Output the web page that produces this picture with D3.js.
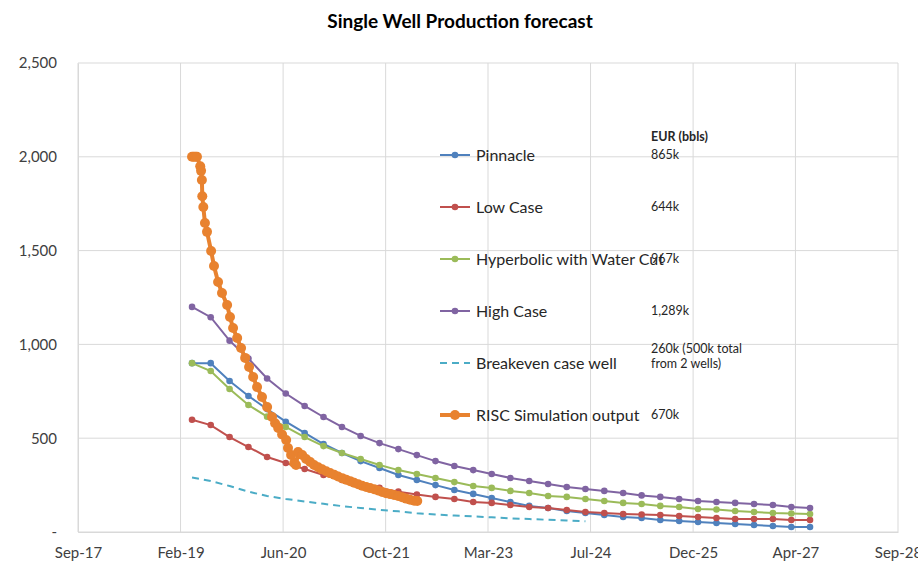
<!DOCTYPE html>
<html>
<head>
<meta charset="utf-8">
<script src="https://cdn.jsdelivr.net/npm/d3@7"></script>
<style>
  body { margin: 0; background: #fff; }
  text { font-family: Lato, "Open Sans", sans-serif; fill: #404040; }
</style>
</head>
<body>
<div id="chart"></div>
<script>
// chart size
var w = 918, h = 569;
var plotLeft = 78, plotRight = 898, plotTop = 63, plotBottom = 532;

// x axis ticks (Excel 500 day steps)
var tickDates = ["2017-09-22", "2019-02-04", "2020-06-18", "2021-10-31", "2023-03-14",
                 "2024-07-26", "2025-12-08", "2027-04-21", "2028-09-02"];
var yTicks = [0, 500, 1000, 1500, 2000, 2500];

// quarterly forecast dates
var quarters = ["2019-04","2019-07","2019-10","2020-01","2020-04","2020-07","2020-10","2021-01",
                "2021-04","2021-07","2021-10","2022-01","2022-04","2022-07","2022-10","2023-01",
                "2023-04","2023-07","2023-10","2024-01","2024-04","2024-07","2024-10","2025-01",
                "2025-04","2025-07","2025-10","2026-01","2026-04","2026-07","2026-10","2027-01",
                "2027-04","2027-07"];

var pinnacle = [900,900,805,725,655,588,528,469,421,378,341,304,277,250,224,203,181,160,
                139,128,112,101,91,80,75,64,59,53,48,43,37,32,27,27];
var lowCase = [598,570,506,453,400,368,336,304,277,256,235,215,200,187,176,160,155,144,
               133,128,117,107,101,96,93,91,85,80,75,69,69,69,64,64];
var hyperbolic = [900,858,762,677,615,560,506,458,421,389,357,330,309,288,266,245,235,219,
                  208,192,187,176,165,155,149,139,133,123,120,112,107,101,99,96];
var highCase = [1200,1145,1020,925,818,738,672,613,560,512,474,442,410,378,352,330,309,288,
                272,256,240,229,219,208,195,187,176,165,160,155,149,144,133,128];
var breakeven = [290,272,245,215,192,176,163,150,138,128,118,110,100,93,88,83,78,73,69,65,61,57];

// RISC simulation output: days after 2019-04-01 and rate
var riscStart = "2019-04-01";
var riscDays = [0,8,16,24,40,44,48,50,55,63,73,93,107,127,146,171,185,200,220,239,259,278,298,
                317,341,366,390,405,420,439,459,468,483,498,507,517,537,556,576,595,615,634,
                654,673,693,712,732,751,771,790,810,829,849,868,888,907,927,946,966,985,1005,
                1024,1044,1063,1083,1098];
var riscValues = [2000,2000,2000,2000,1950,1925,1876,1790,1732,1647,1600,1498,1418,1333,1274,
                  1210,1146,1087,1034,981,928,880,826,773,720,666,613,580,555,520,490,448,410,
                  368,357,426,410,389,373,357,345,334,324,314,305,296,287,279,271,263,255,247,
                  240,234,228,221,213,207,202,197,192,185,178,172,167,165];

var names = ["Pinnacle", "Low Case", "Hyperbolic with Water Cut", "High Case",
             "Breakeven case well", "RISC Simulation output"];
var eurLabels = [["865k"], ["644k"], ["967k"], ["1,289k"], ["260k (500k total", "from 2 wells)"], ["670k"]];
var colors = ["#4F81BD", "#C0504D", "#9BBB59", "#8064A2", "#4BACC6", "#E8822F"];

var parseDay = d3.utcParse("%Y-%m-%d");
var parseMonth = d3.utcParse("%Y-%m");

var x = d3.scaleUtc()
  .domain([parseDay(tickDates[0]), parseDay(tickDates[tickDates.length - 1])])
  .range([plotLeft, plotRight]);
var y = d3.scaleLinear().domain([0, 2500]).range([plotBottom, plotTop]);

var svg = d3.select("#chart").append("svg")
  .attr("width", w)
  .attr("height", h);

// title
svg.append("text")
  .attr("x", 460).attr("y", 28)
  .attr("text-anchor", "middle")
  .style("font-size", "19px")
  .style("font-weight", "bold")
  .style("fill", "#000")
  .text("Single Well Production forecast");

// gridlines
svg.append("g")
  .selectAll("line")
  .data(yTicks)
  .enter().append("line")
  .attr("x1", plotLeft).attr("x2", plotRight)
  .attr("y1", function(d) { return y(d); })
  .attr("y2", function(d) { return y(d); })
  .attr("stroke", "#D9D9D9");

svg.append("g")
  .selectAll("line")
  .data(tickDates)
  .enter().append("line")
  .attr("x1", function(d) { return x(parseDay(d)); })
  .attr("x2", function(d) { return x(parseDay(d)); })
  .attr("y1", plotTop).attr("y2", plotBottom)
  .attr("stroke", "#D9D9D9");

// axes
var yAxis = d3.axisLeft(y)
  .tickValues(yTicks)
  .tickSize(0)
  .tickPadding(21)
  .tickFormat(function(d) { return d === 0 ? "-" : d3.format(",")(d); });
var yG = svg.append("g").attr("transform", "translate(" + plotLeft + ",0)").call(yAxis);
yG.select(".domain").attr("stroke", "#D9D9D9");
yG.selectAll("text").style("font-size", "15px").style("font-family", "Lato, sans-serif").attr("fill", "#404040");

var xAxis = d3.axisBottom(x)
  .tickValues(tickDates.map(parseDay))
  .tickSize(0)
  .tickPadding(15)
  .tickFormat(d3.utcFormat("%b-%y"));
var xG = svg.append("g").attr("transform", "translate(0," + plotBottom + ")").call(xAxis);
xG.select(".domain").attr("stroke", "#D9D9D9");
xG.selectAll("text").style("font-size", "15px").style("font-family", "Lato, sans-serif").attr("fill", "#404040");

// series
var qDates = quarters.map(parseMonth);
var series = [pinnacle, lowCase, hyperbolic, highCase, breakeven].map(function(vals, i) {
  return vals.map(function(v, j) { return {date: qDates[j], value: v}; });
});
var start = parseDay(riscStart);
series.push(riscDays.map(function(d, j) {
  return {date: d3.utcDay.offset(start, d), value: riscValues[j]};
}));

var line = d3.line()
  .x(function(d) { return x(d.date); })
  .y(function(d) { return y(d.value); });

series.forEach(function(s, i) {
  var g = svg.append("g");
  var isRisc = i === 5, isBreak = i === 4;
  g.append("path")
    .datum(s)
    .attr("d", line)
    .attr("fill", "none")
    .attr("stroke", colors[i])
    .attr("stroke-width", isRisc ? 4 : 2)
    .attr("stroke-dasharray", isBreak ? "7,5" : null);
  if (!isBreak) {
    g.selectAll("circle")
      .data(s)
      .enter().append("circle")
      .attr("cx", function(d) { return x(d.date); })
      .attr("cy", function(d) { return y(d.value); })
      .attr("r", isRisc ? 5 : 3.3)
      .attr("fill", colors[i]);
  }
});

// legend
var legend = svg.append("g");
names.forEach(function(n, i) {
  var ly = 155 + i * 52;
  legend.append("line")
    .attr("x1", 440).attr("x2", 470)
    .attr("y1", ly).attr("y2", ly)
    .attr("stroke", colors[i])
    .attr("stroke-width", i === 5 ? 4 : 2)
    .attr("stroke-dasharray", i === 4 ? "7,5" : null);
  if (i !== 4) {
    legend.append("circle")
      .attr("cx", 455).attr("cy", ly)
      .attr("r", i === 5 ? 5 : 3.3)
      .attr("fill", colors[i]);
  }
  legend.append("text")
    .attr("x", 476).attr("y", ly + 6)
    .style("font-size", "16px")
    .style("fill", "#262626")
    .text(n);
});

// EUR column
legend.append("text")
  .attr("x", 651).attr("y", 141)
  .style("font-size", "12.5px")
  .style("font-weight", "bold")
  .style("fill", "#262626")
  .text("EUR (bbls)");
eurLabels.forEach(function(lines, i) {
  var ly = 159 + i * 52 - (lines.length > 1 ? 14 : 0);
  lines.forEach(function(t, k) {
    legend.append("text")
      .attr("x", 651).attr("y", ly + k * 15)
      .style("font-size", "12.5px")
      .style("fill", "#262626")
      .text(t);
  });
});
</script>
</body>
</html>
